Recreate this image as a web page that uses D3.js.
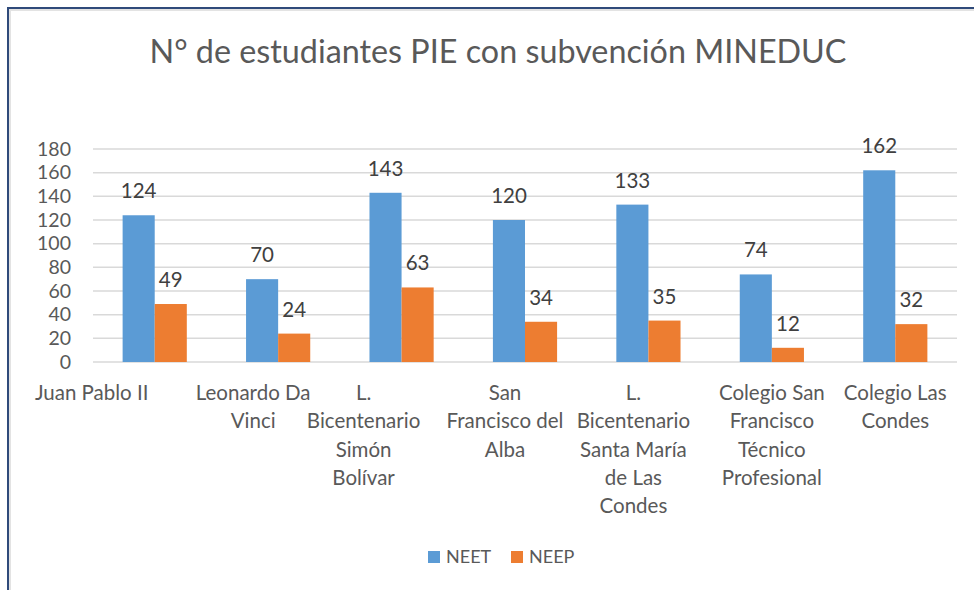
<!DOCTYPE html>
<html>
<head>
<meta charset="utf-8">
<script src="https://cdn.jsdelivr.net/npm/d3@7"></script>
<style>
  body { margin: 0; background: #fff; }
  svg { display: block; font-family: Lato, "Open Sans", sans-serif; }
</style>
</head>
<body>
<svg width="974" height="590"></svg>
<script>
const svg = d3.select('svg');
const width = +svg.attr('width');
const height = +svg.attr('height');

// data
const categories = [
    'Juan Pablo II',
    'Leonardo Da\nVinci',
    'L.\nBicentenario\nSimón\nBolívar',
    'San\nFrancisco del\nAlba',
    'L.\nBicentenario\nSanta María\nde Las\nCondes',
    'Colegio San\nFrancisco\nTécnico\nProfesional',
    'Colegio Las\nCondes'
];
const series = ['NEET', 'NEEP'];
const neet = [124, 70, 143, 120, 133, 74, 162];
const neep = [49, 24, 63, 34, 35, 12, 32];
const yTicks = [0, 20, 40, 60, 80, 100, 120, 140, 160, 180];

// excel shifts some wrapped category labels to the left
const labelNudge = [-63, -25, -38, -20, -15, 0, 0];

const colors = d3.scaleOrdinal().domain(series).range(['#5b9bd5', '#ed7d31']);
const textColor = '#595959';

const rows = categories.map((c, i) => ({ cat: c, NEET: neet[i], NEEP: neep[i] }));

const x = d3.scaleBand()
    .domain(categories)
    .range([93, 957])
    .paddingInner(0.48)
    .paddingOuter(0.24);

const x1 = d3.scaleBand()
    .domain(series)
    .range([0, x.bandwidth()]);

const y = d3.scaleLinear()
    .domain([0, 180])
    .range([362, 149]);

// frame (only left and top edges are visible in the reference)
svg.append('path')
    .attr('d', `M8,${height} V8 H${width}`)
    .attr('fill', 'none')
    .attr('stroke', '#e3e3e3')
    .attr('stroke-width', 4)
    .attr('transform', 'translate(1,1)');
svg.append('path')
    .attr('d', `M8,${height} V8 H${width}`)
    .attr('fill', 'none')
    .attr('stroke', '#2f4a7a')
    .attr('stroke-width', 2);

// title
svg.append('text')
    .attr('x', 498)
    .attr('y', 63)
    .attr('text-anchor', 'middle')
    .attr('fill', textColor)
    .attr('font-size', 32.3)
    .text('N° de estudiantes PIE con subvención MINEDUC');

// gridlines
svg.append('g')
    .selectAll('line')
    .data(yTicks)
    .join('line')
    .attr('x1', x.range()[0])
    .attr('x2', x.range()[1])
    .attr('y1', d => y(d))
    .attr('y2', d => y(d))
    .attr('stroke', '#d9d9d9')
    .attr('stroke-width', 1.5);

// y axis labels
const yAxis = svg.append('g')
    .attr('transform', 'translate(77,0)')
    .call(d3.axisLeft(y).tickValues(yTicks).tickSize(0).tickPadding(6));
yAxis.select('.domain').remove();
yAxis.selectAll('text')
    .attr('fill', textColor)
    .attr('font-size', 19.5)
    .attr('font-family', 'Lato, sans-serif');

// bars
const groups = svg.append('g')
    .selectAll('g')
    .data(rows)
    .join('g')
    .attr('transform', d => `translate(${x(d.cat)},0)`);

const cells = groups.selectAll('g')
    .data(d => series.map(s => ({ key: s, value: d[s] })))
    .join('g');

cells.append('rect')
    .attr('x', d => x1(d.key))
    .attr('y', d => y(d.value))
    .attr('width', x1.bandwidth())
    .attr('height', d => y(0) - y(d.value))
    .attr('fill', d => colors(d.key));

cells.append('text')
    .attr('x', d => x1(d.key) + x1.bandwidth() / 2)
    .attr('y', d => y(d.value) - 17)
    .attr('text-anchor', 'middle')
    .attr('fill', '#404040')
    .attr('font-size', 20.5)
    .text(d => d.value);

// category labels
const catLabels = svg.append('g')
    .selectAll('text')
    .data(categories)
    .join('text')
    .attr('x', (d, i) => x(d) + x.bandwidth() / 2 + labelNudge[i])
    .attr('y', 400)
    .attr('text-anchor', 'middle')
    .attr('fill', textColor)
    .attr('font-size', 20.5);

catLabels.selectAll('tspan')
    .data(d => d.split('\n'))
    .join('tspan')
    .attr('x', function () { return d3.select(this.parentNode).attr('x'); })
    .attr('dy', (d, i) => i === 0 ? 0 : 28.3)
    .text(d => d);

// legend
const legend = svg.append('g')
    .selectAll('g')
    .data(series)
    .join('g')
    .attr('transform', (d, i) => `translate(${428 + i * 83},551)`);

legend.append('rect')
    .attr('width', 12)
    .attr('height', 12)
    .attr('fill', d => colors(d));

legend.append('text')
    .attr('x', 18)
    .attr('y', 12)
    .attr('fill', textColor)
    .attr('font-size', 18)
    .text(d => d);
</script>
</body>
</html>
